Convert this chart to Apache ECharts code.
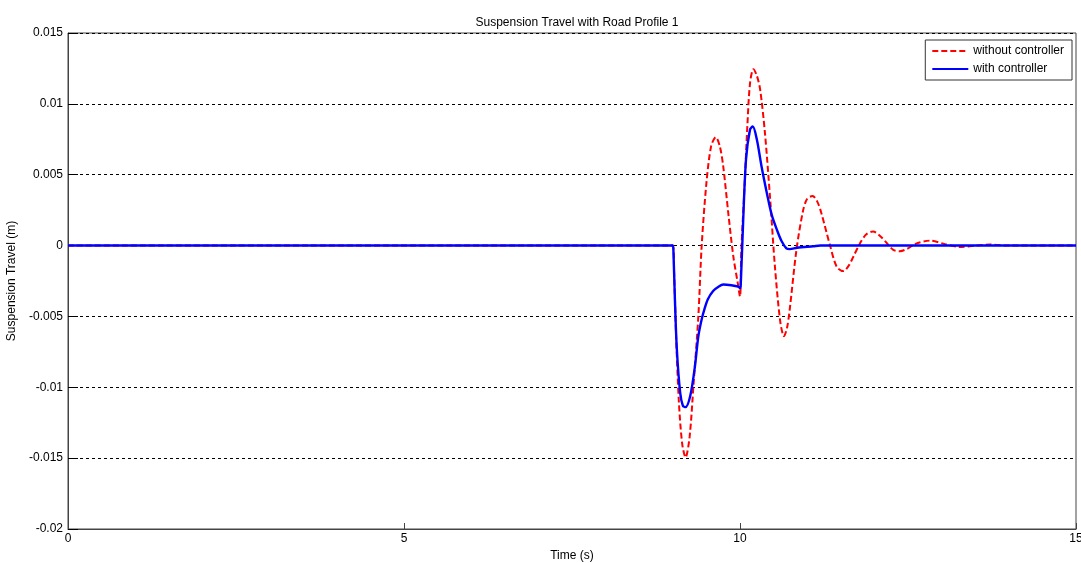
<!DOCTYPE html>
<html>
<head>
<meta charset="utf-8">
<script src="https://cdn.jsdelivr.net/npm/echarts@6/dist/echarts.min.js"></script>
<style>
    html, body { margin: 0; padding: 0; background: #fff; }
    #chart { width: 1081px; height: 563px; }
</style>
</head>
<body>
<div id="chart"></div>
<script>
// time (s) and suspension travel (m)
let timeNoCtrl = [0, 9.0, 9.02, 9.05, 9.09, 9.14, 9.19, 9.25, 9.31, 9.38, 9.43, 9.50, 9.57, 9.64, 9.70, 9.75, 9.83, 9.90, 9.965, 10.0,
    10.02, 10.07, 10.11, 10.15, 10.2, 10.25, 10.30, 10.37, 10.45, 10.52, 10.60, 10.655, 10.70, 10.74, 10.84, 10.94, 11.0, 11.08, 11.15, 11.21,
    11.34, 11.44, 11.54, 11.62, 11.69, 11.79, 11.88, 11.98, 12.08, 12.18, 12.28, 12.38, 12.5, 12.6, 12.83, 13.05, 13.27, 13.5, 13.72, 14, 15];
let travelNoCtrl = [0, 0, -0.002, -0.0065, -0.011, -0.014, -0.01495, -0.0135, -0.0097, -0.005, 0, 0.0044, 0.007, 0.00765, 0.007, 0.0056, 0.0021, -0.00075, -0.0026, -0.0036,
    -0.0003, 0.0044, 0.0085, 0.0115, 0.01245, 0.012, 0.011, 0.008, 0.0032, -0.0015, -0.0054, -0.0064, -0.0058, -0.0045, -0.0003, 0.0025, 0.0033, 0.0035, 0.0031, 0.0023,
    0, -0.0015, -0.0018, -0.0014, -0.00075, 0.0002, 0.0008, 0.001, 0.0007, 0.0002, -0.0003, -0.0004, -0.0002, 0.0001, 0.00035, 0.0001, -0.0001, 0, 0.00007, 0, 0];

let timeCtrl = [0, 9.0, 9.01, 9.03, 9.06, 9.11, 9.15, 9.19, 9.26, 9.33, 9.38, 9.43, 9.47, 9.52, 9.60, 9.68, 9.75, 9.87, 9.975, 10.0,
    10.01, 10.05, 10.09, 10.15, 10.19, 10.25, 10.32, 10.40, 10.47, 10.55, 10.62, 10.69, 10.74, 10.85, 11.09, 11.2, 15];
let travelCtrl = [0, 0, -0.0005, -0.0036, -0.0073, -0.0104, -0.0113, -0.0114, -0.0106, -0.0085, -0.0064, -0.0052, -0.0045, -0.0038, -0.0032, -0.0029, -0.00275, -0.0028, -0.0029, -0.003,
    -0.0029, 0.0021, 0.0061, 0.0082, 0.0084, 0.0075, 0.0056, 0.0037, 0.0022, 0.0011, 0.0003, -0.0002, -0.00025, -0.00015, -0.00005, 0, 0];

let xTicks = [0, 5, 10, 15];
let yTicks = [-0.02, -0.015, -0.01, -0.005, 0, 0.005, 0.01, 0.015];

function pairs(xs, ys) {
    let out = [];
    for (let i = 0; i < xs.length; i++) {
        out.push([xs[i], ys[i]]);
    }
    return out;
}

let font = "'Liberation Sans', Arial, sans-serif";
let chart = echarts.init(document.getElementById('chart'));

let option = {
    animation: false,
    backgroundColor: '#fff',
    title: {
        text: 'Suspension Travel with Road Profile 1',
        left: 572,
        textAlign: 'center',
        top: 12,
        textStyle: { fontFamily: font, fontSize: 12, fontWeight: 'normal', color: '#000' }
    },
    legend: {
        orient: 'vertical',
        right: 9,
        top: 40,
        padding: [5, 8, 5, 6],
        itemGap: 6,
        itemWidth: 36,
        itemHeight: 8,
        borderColor: '#333',
        borderWidth: 1,
        backgroundColor: '#fff',
        itemStyle: { opacity: 0 },
        textStyle: { fontFamily: font, fontSize: 12, color: '#000' },
        data: ['without controller', 'with controller']
    },
    grid: {
        left: 68, right: 5, top: 33, bottom: 34,
        outerBoundsMode: 'none',
        containLabel: false,
        show: true, borderColor: '#444', borderWidth: 1
    },
    xAxis: {
        type: 'value',
        min: 0, max: 15, interval: 5,
        name: 'Time (s)',
        nameLocation: 'middle',
        nameGap: 20,
        nameTextStyle: { fontFamily: font, fontSize: 12, color: '#000' },
        axisLine: { show: true, onZero: false, lineStyle: { color: '#444' } },
        axisTick: { show: true, inside: true, length: 6, lineStyle: { color: '#444' } },
        axisLabel: {
            fontFamily: font, fontSize: 12, color: '#000', margin: 4,
            formatter: v => xTicks.includes(v) ? String(v) : ''
        },
        splitLine: { show: false }
    },
    yAxis: {
        type: 'value',
        min: -0.02, max: 0.015, interval: 0.005,
        name: 'Suspension Travel (m)',
        nameLocation: 'middle',
        nameGap: 50,
        nameTextStyle: { fontFamily: font, fontSize: 12, color: '#000' },
        axisLine: { show: true, onZero: false, lineStyle: { color: '#444' } },
        axisTick: { show: true, inside: true, length: 10, lineStyle: { color: '#000' } },
        axisLabel: {
            fontFamily: font, fontSize: 12, color: '#000', margin: 5,
            formatter: function (v) {
                let r = Math.round(v * 1000) / 1000;
                let hit = yTicks.find(t => Math.abs(t - r) < 1e-9);
                return hit === undefined ? '' : String(hit);
            }
        },
        splitLine: { show: true, lineStyle: { color: '#000', type: [3, 3], width: 1 } }
    },
    series: [
        {
            name: 'without controller',
            type: 'line',
            data: pairs(timeNoCtrl, travelNoCtrl),
            symbol: 'none',
            smooth: 0.3,
            lineStyle: { color: '#ff0000', width: 2, type: [6, 3] },
            itemStyle: { color: '#ff0000' },
            z: 2
        },
        {
            name: 'with controller',
            type: 'line',
            data: pairs(timeCtrl, travelCtrl),
            symbol: 'none',
            smooth: 0.3,
            lineStyle: { color: '#0000ff', width: 2.4 },
            itemStyle: { color: '#0000ff' },
            z: 3
        }
    ]
};

chart.setOption(option);
</script>
</body>
</html>
